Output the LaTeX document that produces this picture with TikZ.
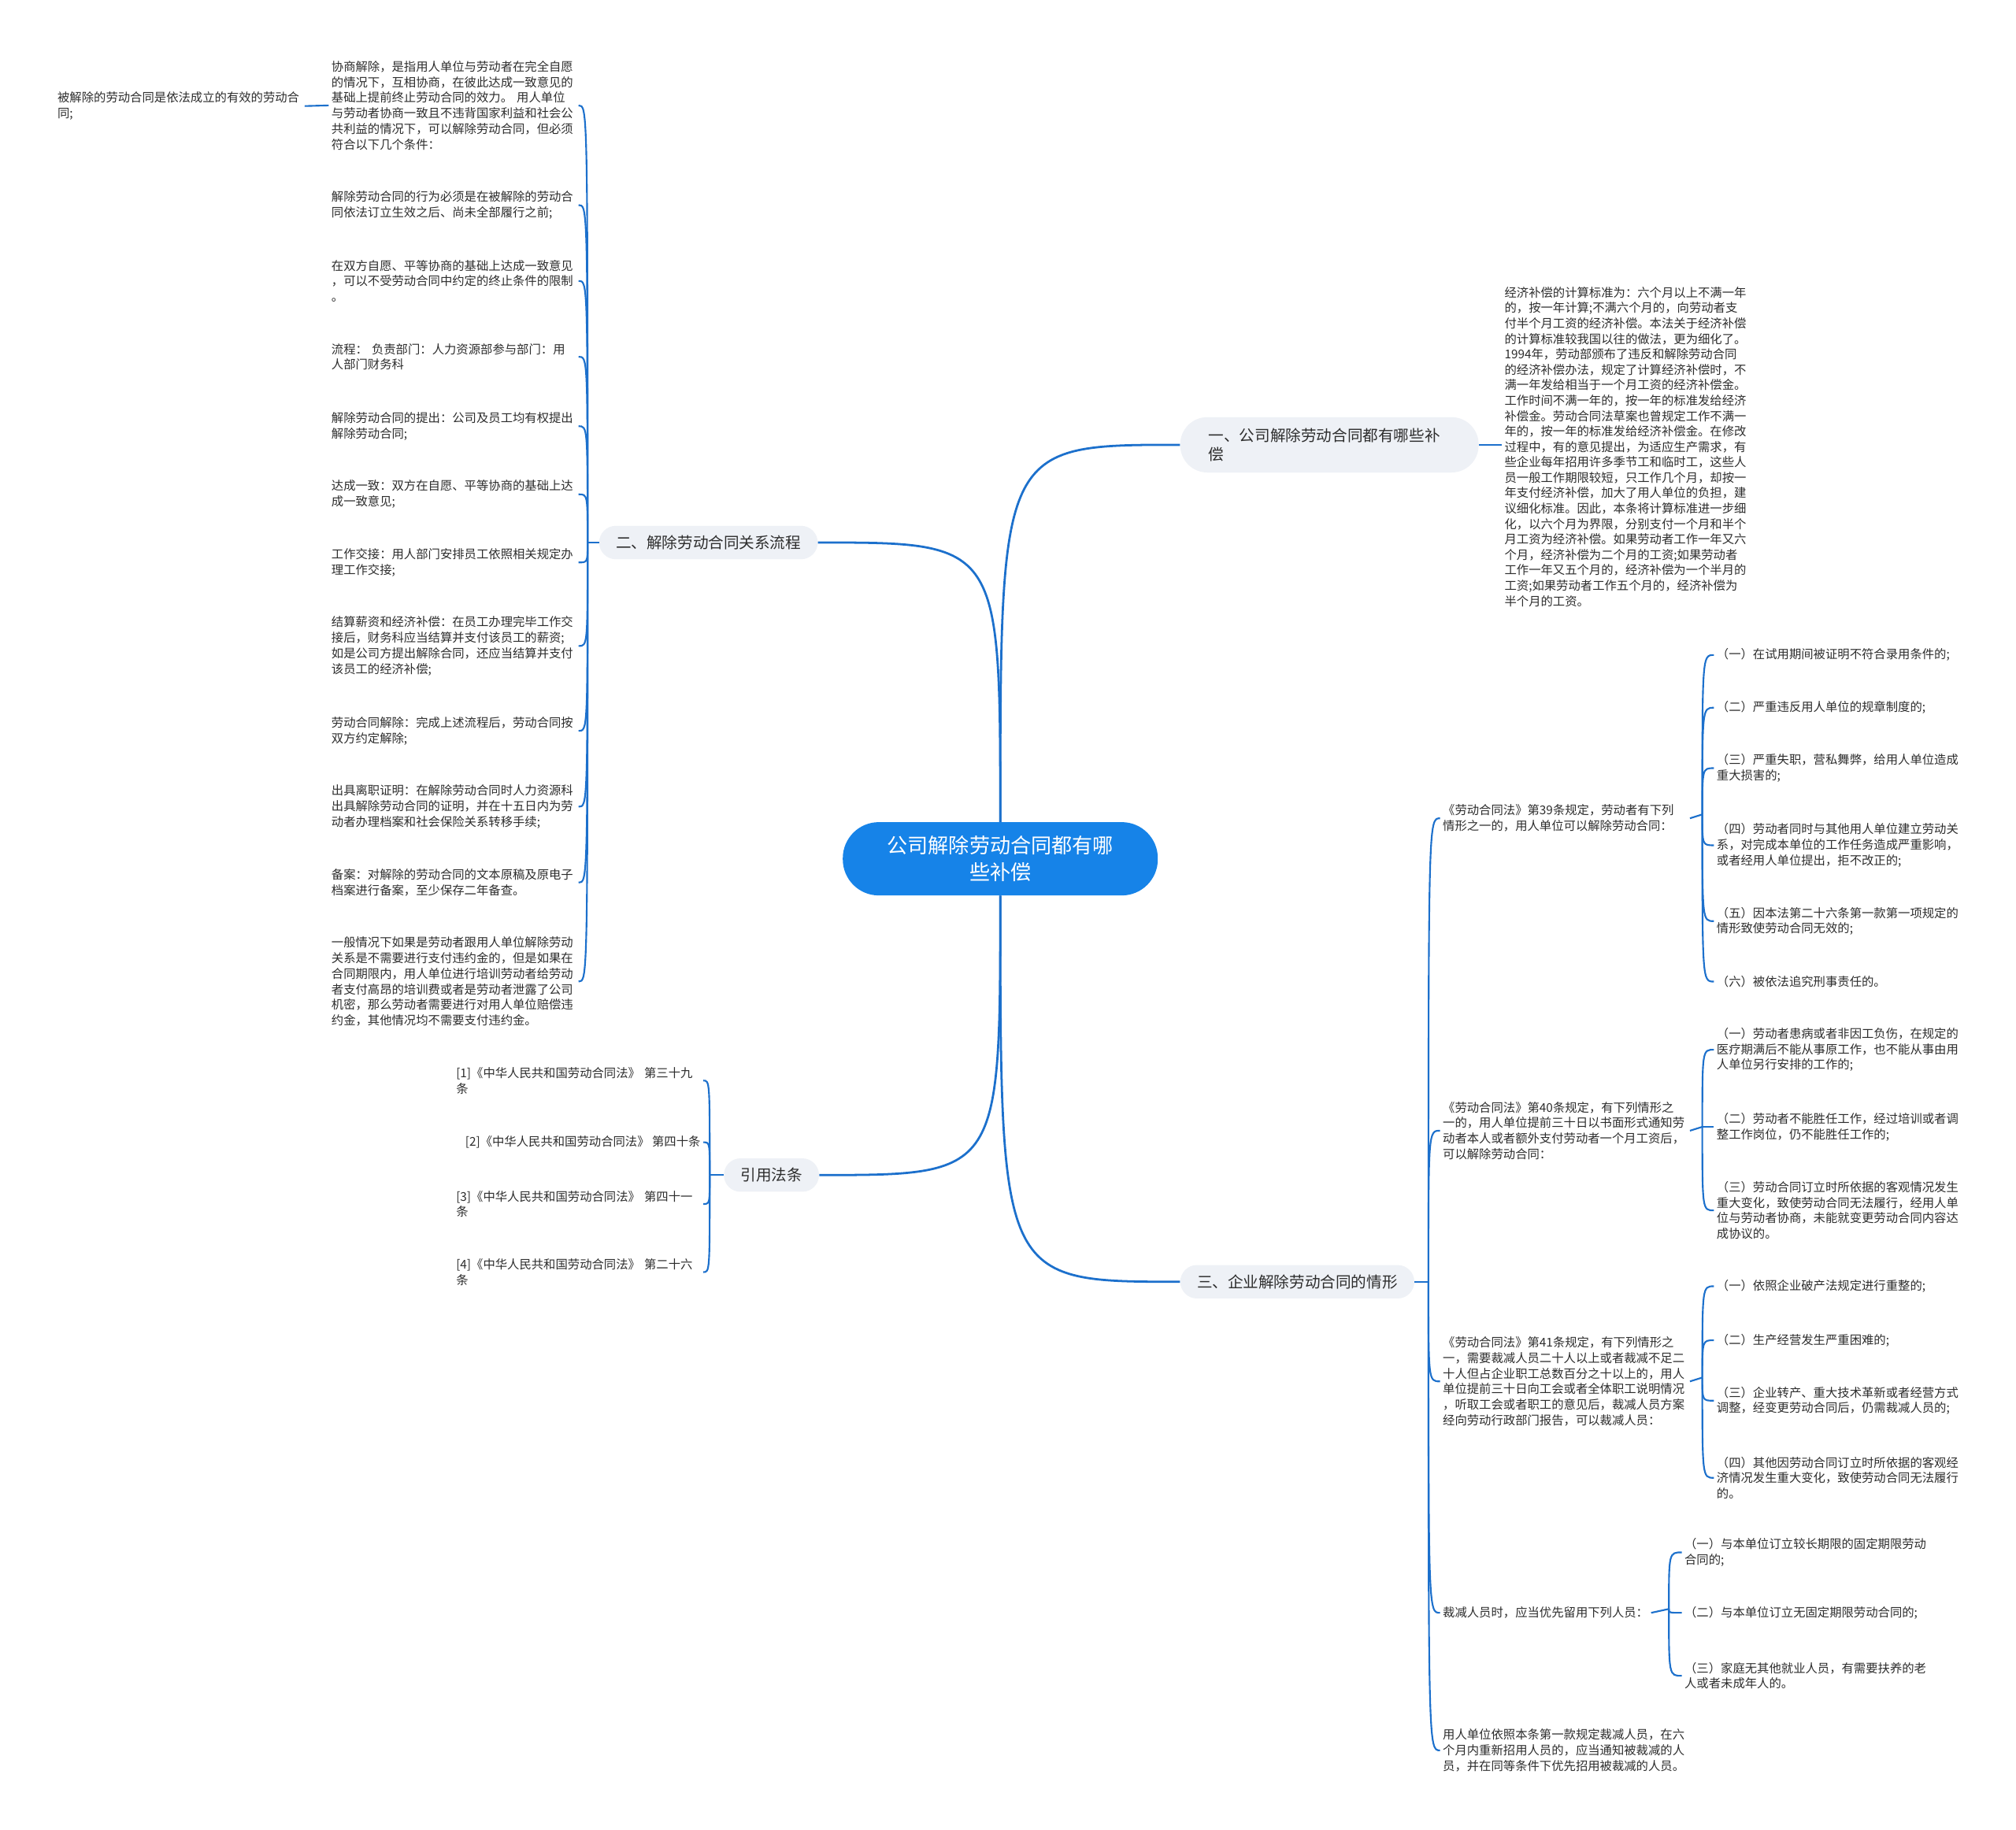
\documentclass[tikz,border=0pt]{standalone}
\usepackage{fontspec}
\setmainfont{Noto Sans CJK SC}
\usepackage{tikz}
\usetikzlibrary{positioning, calc}

\definecolor{linkblue}{RGB}{28,112,204}
\definecolor{rootblue}{RGB}{22,131,232}
\definecolor{topicgray}{RGB}{238,241,246}
\definecolor{textgray}{RGB}{45,45,45}

\tikzset{
  root/.style={fill=rootblue, text=white, rounded corners=28pt, minimum width=245pt, minimum height=57pt, align=center, font=\fontsize{16}{21}\selectfont},
  topic/.style={fill=topicgray, text=textgray, rounded corners=13pt, minimum height=26pt, inner xsep=13pt, font=\fontsize{12}{15}\selectfont},
  leaf/.style={text=textgray, inner sep=2pt, yshift=-1.5pt, align=left, font=\fontsize{9.4}{12.1}\selectfont},
  wide/.style={leaf, text width=190pt},
  mainlink/.style={draw=linkblue, line width=1.7pt},
  link/.style={draw=linkblue, line width=1.3pt},
}

\begin{document}
\begin{tikzpicture}[x=1pt, y=-1pt]
\useasboundingbox[fill=white] (0,0) rectangle (1568,1423);
% Root
\node[root] (root) at (778,668) {公司解除劳动合同都有哪\\些补偿};
%
% Main topics
\node[topic, rounded corners=21pt, minimum height=43pt, inner xsep=22pt, text width=188pt, align=left] (t1) at (1034,346) {一、公司解除劳动合同都有哪些补\\偿};
\node[topic] (t2) at (551,422) {二、解除劳动合同关系流程};
\node[topic] (t3) at (1009,997) {三、企业解除劳动合同的情形};
\node[topic] (t4) at (600,914) {引用法条};
\draw[mainlink] (root.north) .. controls (root.north |- t1.west) .. (t1.west);
\draw[mainlink] (root.north) .. controls (root.north |- t2.east) .. (t2.east);
\draw[mainlink] (root.south) .. controls (root.south |- t3.west) .. (t3.west);
\draw[mainlink] (root.south) .. controls (root.south |- t4.east) .. (t4.east);
%
% Topic 1: compensation text
\node[wide, anchor=west, font=\fontsize{9.4}{12}\selectfont] (p1) at (1168,346) {经济补偿的计算标准为：六个月以上不满一年\\的，按一年计算;不满六个月的，向劳动者支\\付半个月工资的经济补偿。本法关于经济补偿\\的计算标准较我国以往的做法，更为细化了。\\1994年，劳动部颁布了违反和解除劳动合同\\的经济补偿办法，规定了计算经济补偿时，不\\满一年发给相当于一个月工资的经济补偿金。\\工作时间不满一年的，按一年的标准发给经济\\补偿金。劳动合同法草案也曾规定工作不满一\\年的，按一年的标准发给经济补偿金。在修改\\过程中，有的意见提出，为适应生产需求，有\\些企业每年招用许多季节工和临时工，这些人\\员一般工作期限较短，只工作几个月，却按一\\年支付经济补偿，加大了用人单位的负担，建\\议细化标准。因此，本条将计算标准进一步细\\化，以六个月为界限，分别支付一个月和半个\\月工资为经济补偿。如果劳动者工作一年又六\\个月，经济补偿为二个月的工资;如果劳动者\\工作一年又五个月的，经济补偿为一个半月的\\工资;如果劳动者工作五个月的，经济补偿为\\半个月的工资。};
\draw[link] (t1.east) -- (t1.east -| p1.west);
%
% Topic 2: procedure
\coordinate (j2) at (457,422);
\node[wide, anchor=east] (s1) at (450,80.5) {协商解除，是指用人单位与劳动者在完全自愿\\的情况下，互相协商，在彼此达成一致意见的\\基础上提前终止劳动合同的效力。 用人单位\\与劳动者协商一致且不违背国家利益和社会公\\共利益的情况下，可以解除劳动合同，但必须\\符合以下几个条件：};
\node[wide, anchor=east] (s2) at (450,158) {解除劳动合同的行为必须是在被解除的劳动合\\同依法订立生效之后、尚未全部履行之前;};
\node[wide, anchor=east] (s3) at (450,217) {在双方自愿、平等协商的基础上达成一致意见\\，可以不受劳动合同中约定的终止条件的限制\\。};
\node[wide, anchor=east] (s4) at (450,276) {流程： 负责部门：人力资源部参与部门：用\\人部门财务科};
\node[wide, anchor=east] (s5) at (450,330) {解除劳动合同的提出：公司及员工均有权提出\\解除劳动合同;};
\node[wide, anchor=east] (s6) at (450,383) {达成一致：双方在自愿、平等协商的基础上达\\成一致意见;};
\node[wide, anchor=east] (s7) at (450,436) {工作交接：用人部门安排员工依照相关规定办\\理工作交接;};
\node[wide, anchor=east] (s8) at (450,501) {结算薪资和经济补偿：在员工办理完毕工作交\\接后，财务科应当结算并支付该员工的薪资;\\如是公司方提出解除合同，还应当结算并支付\\该员工的经济补偿;};
\node[wide, anchor=east] (s9) at (450,567) {劳动合同解除：完成上述流程后，劳动合同按\\双方约定解除;};
\node[wide, anchor=east] (s10) at (450,626) {出具离职证明：在解除劳动合同时人力资源科\\出具解除劳动合同的证明，并在十五日内为劳\\动者办理档案和社会保险关系转移手续;};
\node[wide, anchor=east] (s11) at (450,685) {备案：对解除的劳动合同的文本原稿及原电子\\档案进行备案，至少保存二年备查。};
\node[wide, anchor=east] (s12) at (450,762) {一般情况下如果是劳动者跟用人单位解除劳动\\关系是不需要进行支付违约金的，但是如果在\\合同期限内，用人单位进行培训劳动者给劳动\\者支付高昂的培训费或者是劳动者泄露了公司\\机密，那么劳动者需要进行对用人单位赔偿违\\约金，其他情况均不需要支付违约金。};
\node[wide, anchor=east] (s0) at (237,81) {被解除的劳动合同是依法成立的有效的劳动合\\同;};
\draw[link] (t2.west) -- (j2);
\draw[link] (j2) .. controls (j2 |- s1.east) .. (s1.east);
\draw[link] (j2) .. controls (j2 |- s2.east) .. (s2.east);
\draw[link] (j2) .. controls (j2 |- s3.east) .. (s3.east);
\draw[link] (j2) .. controls (j2 |- s4.east) .. (s4.east);
\draw[link] (j2) .. controls (j2 |- s5.east) .. (s5.east);
\draw[link] (j2) .. controls (j2 |- s6.east) .. (s6.east);
\draw[link] (j2) .. controls (j2 |- s7.east) .. (s7.east);
\draw[link] (j2) .. controls (j2 |- s8.east) .. (s8.east);
\draw[link] (j2) .. controls (j2 |- s9.east) .. (s9.east);
\draw[link] (j2) .. controls (j2 |- s10.east) .. (s10.east);
\draw[link] (j2) .. controls (j2 |- s11.east) .. (s11.east);
\draw[link] (j2) .. controls (j2 |- s12.east) .. (s12.east);
\draw[link] (s1.west) -- (s0.east);
%
% Topic 4: cited articles
\coordinate (j4) at (552,914);
\node[wide, anchor=east] (r1) at (547,839) {[1]《中华人民共和国劳动合同法》 第三十九\\条};
\node[leaf, anchor=east] (r2) at (547,887) {[2]《中华人民共和国劳动合同法》 第四十条};
\node[wide, anchor=east] (r3) at (547,935) {[3]《中华人民共和国劳动合同法》 第四十一\\条};
\node[wide, anchor=east] (r4) at (547,988) {[4]《中华人民共和国劳动合同法》 第二十六\\条};
\draw[link] (t4.west) -- (j4);
\draw[link] (j4) .. controls (j4 |- r1.east) .. (r1.east);
\draw[link] (j4) .. controls (j4 |- r2.east) .. (r2.east);
\draw[link] (j4) .. controls (j4 |- r3.east) .. (r3.east);
\draw[link] (j4) .. controls (j4 |- r4.east) .. (r4.east);
%
% Topic 3: cases
\coordinate (j3) at (1111,997);
\node[wide, anchor=west] (c1) at (1120,635) {《劳动合同法》第39条规定，劳动者有下列\\情形之一的，用人单位可以解除劳动合同：};
\node[wide, anchor=west] (c2) at (1120,878) {《劳动合同法》第40条规定，有下列情形之\\一的，用人单位提前三十日以书面形式通知劳\\动者本人或者额外支付劳动者一个月工资后，\\可以解除劳动合同：};
\node[wide, anchor=west] (c3) at (1120,1073) {《劳动合同法》第41条规定，有下列情形之\\一，需要裁减人员二十人以上或者裁减不足二\\十人但占企业职工总数百分之十以上的，用人\\单位提前三十日向工会或者全体职工说明情况\\，听取工会或者职工的意见后，裁减人员方案\\经向劳动行政部门报告，可以裁减人员：};
\node[leaf, anchor=west] (c4) at (1120,1253) {裁减人员时，应当优先留用下列人员：};
\node[wide, anchor=west] (c5) at (1120,1360) {用人单位依照本条第一款规定裁减人员，在六\\个月内重新招用人员的，应当通知被裁减的人\\员，并在同等条件下优先招用被裁减的人员。};
\draw[link] (t3.east) -- (j3);
\draw[link] (j3) .. controls (j3 |- c1.west) .. (c1.west);
\draw[link] (j3) .. controls (j3 |- c2.west) .. (c2.west);
\draw[link] (j3) .. controls (j3 |- c3.west) .. (c3.west);
\draw[link] (j3) .. controls (j3 |- c4.west) .. (c4.west);
\draw[link] (j3) .. controls (j3 |- c5.west) .. (c5.west);
%
% Article 39 items
\coordinate (k1) at (1324,633.5);
\node[wide, anchor=west] (a1) at (1333,508) {（一）在试用期间被证明不符合录用条件的;};
\node[wide, anchor=west] (a2) at (1333,549) {（二）严重违反用人单位的规章制度的;};
\node[wide, anchor=west] (a3) at (1333,596) {（三）严重失职，营私舞弊，给用人单位造成\\重大损害的;};
\node[wide, anchor=west] (a4) at (1333,656) {（四）劳动者同时与其他用人单位建立劳动关\\系，对完成本单位的工作任务造成严重影响，\\或者经用人单位提出，拒不改正的;};
\node[wide, anchor=west] (a5) at (1333,715) {（五）因本法第二十六条第一款第一项规定的\\情形致使劳动合同无效的;};
\node[wide, anchor=west] (a6) at (1333,762) {（六）被依法追究刑事责任的。};
\draw[link] (c1.east) -- (k1);
\draw[link] (k1) .. controls (k1 |- a1.west) .. (a1.west);
\draw[link] (k1) .. controls (k1 |- a2.west) .. (a2.west);
\draw[link] (k1) .. controls (k1 |- a3.west) .. (a3.west);
\draw[link] (k1) .. controls (k1 |- a4.west) .. (a4.west);
\draw[link] (k1) .. controls (k1 |- a5.west) .. (a5.west);
\draw[link] (k1) .. controls (k1 |- a6.west) .. (a6.west);
%
% Article 40 items
\coordinate (k2) at (1324,876.5);
\node[wide, anchor=west] (b1) at (1333,815) {（一）劳动者患病或者非因工负伤，在规定的\\医疗期满后不能从事原工作，也不能从事由用\\人单位另行安排的工作的;};
\node[wide, anchor=west] (b2) at (1333,875) {（二）劳动者不能胜任工作，经过培训或者调\\整工作岗位，仍不能胜任工作的;};
\node[wide, anchor=west] (b3) at (1333,940) {（三）劳动合同订立时所依据的客观情况发生\\重大变化，致使劳动合同无法履行，经用人单\\位与劳动者协商，未能就变更劳动合同内容达\\成协议的。};
\draw[link] (c2.east) -- (k2);
\draw[link] (k2) .. controls (k2 |- b1.west) .. (b1.west);
\draw[link] (k2) .. controls (k2 |- b2.west) .. (b2.west);
\draw[link] (k2) .. controls (k2 |- b3.west) .. (b3.west);
%
% Article 41 items
\coordinate (k3) at (1324,1071.5);
\node[wide, anchor=west] (d1) at (1333,999) {（一）依照企业破产法规定进行重整的;};
\node[wide, anchor=west] (d2) at (1333,1041) {（二）生产经营发生严重困难的;};
\node[wide, anchor=west] (d3) at (1333,1088) {（三）企业转产、重大技术革新或者经营方式\\调整，经变更劳动合同后，仍需裁减人员的;};
\node[wide, anchor=west] (d4) at (1333,1148) {（四）其他因劳动合同订立时所依据的客观经\\济情况发生重大变化，致使劳动合同无法履行\\的。};
\draw[link] (c3.east) -- (k3);
\draw[link] (k3) .. controls (k3 |- d1.west) .. (d1.west);
\draw[link] (k3) .. controls (k3 |- d2.west) .. (d2.west);
\draw[link] (k3) .. controls (k3 |- d3.west) .. (d3.west);
\draw[link] (k3) .. controls (k3 |- d4.west) .. (d4.west);
%
% Retained staff
\coordinate (k4) at (1298,1251.5);
\node[wide, anchor=west] (e1) at (1308,1206) {（一）与本单位订立较长期限的固定期限劳动\\合同的;};
\node[wide, anchor=west] (e2) at (1308,1253) {（二）与本单位订立无固定期限劳动合同的;};
\node[wide, anchor=west] (e3) at (1308,1302) {（三）家庭无其他就业人员，有需要扶养的老\\人或者未成年人的。};
\draw[link] (c4.east) -- (k4);
\draw[link] (k4) .. controls (k4 |- e1.west) .. (e1.west);
\draw[link] (k4) .. controls (k4 |- e2.west) .. (e2.west);
\draw[link] (k4) .. controls (k4 |- e3.west) .. (e3.west);
%
\end{tikzpicture}
\end{document}
